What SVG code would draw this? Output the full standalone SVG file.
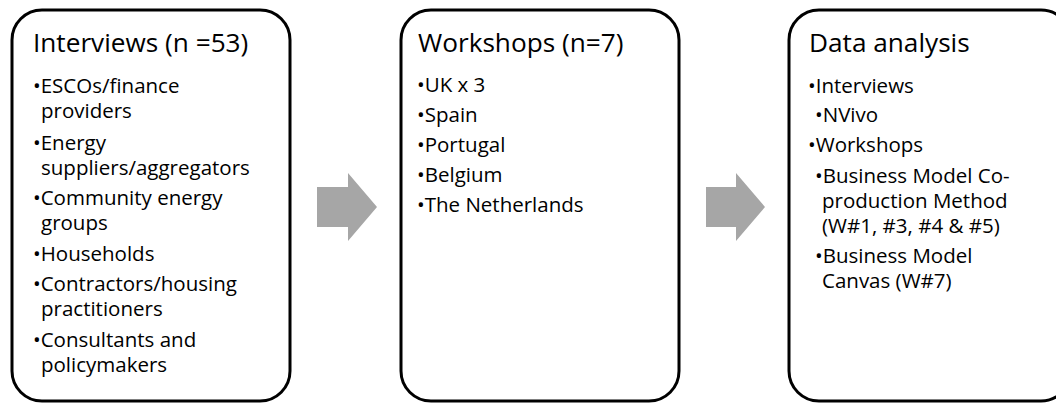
<svg xmlns="http://www.w3.org/2000/svg" width="1056" height="405" viewBox="0 0 1056 405">
<style>
.box{fill:#fff;stroke:#000;stroke-width:3}
.arrow{fill:#a6a6a6}
text{font-family:"Open Sans","Liberation Sans",sans-serif;fill:#000}
.t{font-size:26.2px}
.b{font-size:20.5px}
</style>
<rect width="1056" height="405" fill="#fff"/>
<g id="connectors">
<polygon class="arrow" points="317,187 348,187 348,173 377,207 348,241 348,227 317,227"/>
<polygon class="arrow" points="706,187 736,187 736,173 765,207 736,241 736,227 706,227"/>
</g>
<g id="interviews">
<rect class="box" x="12" y="10" width="278" height="391" rx="30"/>
<text class="t" x="33" y="52">Interviews (n =53)</text>
<text class="b"><tspan x="33" y="93">•ESCOs/finance</tspan><tspan x="41" y="118">providers</tspan><tspan x="33" y="150">•Energy</tspan><tspan x="41" y="175">suppliers/aggregators</tspan><tspan x="33" y="205">•Community energy</tspan><tspan x="41" y="230">groups</tspan><tspan x="33" y="261">•Households</tspan><tspan x="33" y="291">•Contractors/housing</tspan><tspan x="41" y="316">practitioners</tspan><tspan x="33" y="347">•Consultants and</tspan><tspan x="41" y="372">policymakers</tspan></text>
</g>
<g id="workshops">
<rect class="box" x="401" y="10" width="278" height="391" rx="30"/>
<text class="t" x="418" y="52">Workshops (n=7)</text>
<text class="b"><tspan x="417" y="92">•UK x 3</tspan><tspan x="417" y="122">•Spain</tspan><tspan x="417" y="152">•Portugal</tspan><tspan x="417" y="182">•Belgium</tspan><tspan x="417" y="212">•The Netherlands</tspan></text>
</g>
<g id="analysis">
<rect class="box" x="789" y="10" width="282" height="391" rx="30"/>
<text class="t" x="809" y="52">Data analysis</text>
<text class="b"><tspan x="808" y="93">•Interviews</tspan><tspan x="815" y="122">•NVivo</tspan><tspan x="808" y="152">•Workshops</tspan><tspan x="815" y="183">•Business Model Co-</tspan><tspan x="822" y="208">production Method</tspan><tspan x="822" y="233">(W#1, #3, #4 &amp; #5)</tspan><tspan x="815" y="263">•Business Model</tspan><tspan x="822" y="288">Canvas (W#7)</tspan></text>
</g>
</svg>
